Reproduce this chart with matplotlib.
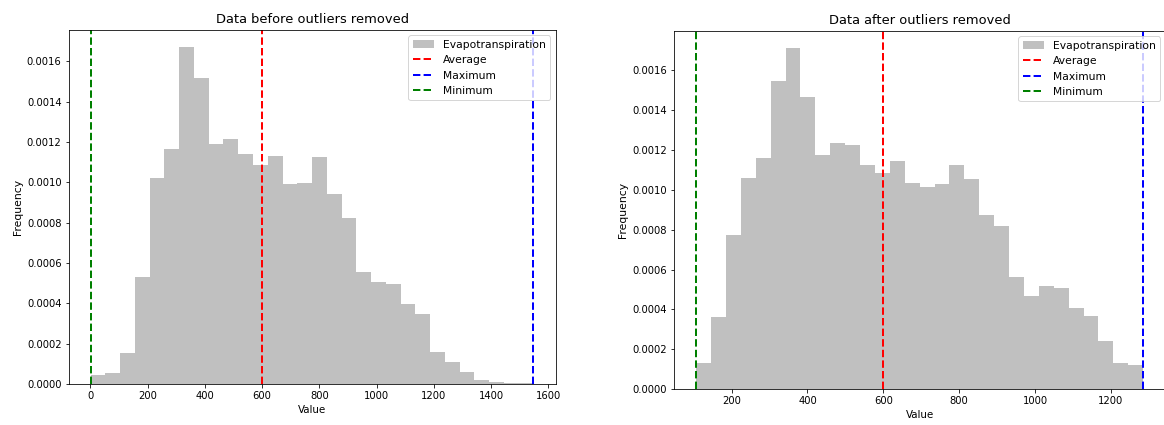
import numpy as np
import matplotlib
matplotlib.use("Agg")
import matplotlib.pyplot as plt
from matplotlib.ticker import MultipleLocator

# ---- data ----
before_min = 1.0
before_max = 1548.0
before_avg = 601.0
before_density = [0.000045, 0.000056, 0.000153, 0.000533, 0.001024, 0.001167,
                  0.001672, 0.001520, 0.001192, 0.001215, 0.001139, 0.001087,
                  0.001130, 0.000994, 0.000999, 0.001128, 0.000942, 0.000823,
                  0.000554, 0.000506, 0.000495, 0.000399, 0.000345, 0.000157,
                  0.000110, 0.000061, 0.000018, 0.0000115, 0.000005, 0.000004]

after_min = 106.6
after_max = 1285.0
after_avg = 600.0
after_density = [0.000134, 0.000361, 0.000773, 0.001061, 0.001159, 0.001545,
                 0.001710, 0.001464, 0.001176, 0.001232, 0.001225, 0.001122,
                 0.001083, 0.001143, 0.001032, 0.001016, 0.001027, 0.001122,
                 0.001054, 0.000872, 0.000817, 0.000563, 0.000469, 0.000520,
                 0.000509, 0.000406, 0.000367, 0.000244, 0.000130, 0.000122]

titles = ["Data before outliers removed", "Data after outliers removed"]
series_label = "Evapotranspiration"

DPI = 72
fig = plt.figure(figsize=(1164 / DPI, 425 / DPI), dpi=DPI)

ax1 = fig.add_axes([68.5 / 1164, 1 - 384 / 425, (555.6 - 68.5) / 1164, (384 - 30) / 425])
ax2 = fig.add_axes([673.8 / 1164, 1 - 389.3 / 425, (1165.5 - 673.8) / 1164, (389.3 - 31) / 425])


def draw(ax, vmin, vmax, vavg, dens, title):
    edges = np.linspace(vmin, vmax, len(dens) + 1)
    ax.hist(edges[:-1], bins=edges, weights=dens, color="silver", label=series_label)
    ax.axvline(vavg, color="red", linestyle="--", linewidth=2, label="Average")
    ax.axvline(vmax, color="blue", linestyle="--", linewidth=2, label="Maximum")
    ax.axvline(vmin, color="green", linestyle="--", linewidth=2, label="Minimum")
    ax.set_title(title, fontsize=13, pad=7)
    ax.set_xlabel("Value", fontsize=10.3)
    ax.set_ylabel("Frequency", fontsize=10.8)
    ax.yaxis.set_major_locator(MultipleLocator(0.0002))
    ax.legend(loc="upper right", fontsize=10.8)


draw(ax1, before_min, before_max, before_avg, before_density, titles[0])
draw(ax2, after_min, after_max, after_avg, after_density, titles[1])

fig.savefig("out.png", dpi=DPI)
